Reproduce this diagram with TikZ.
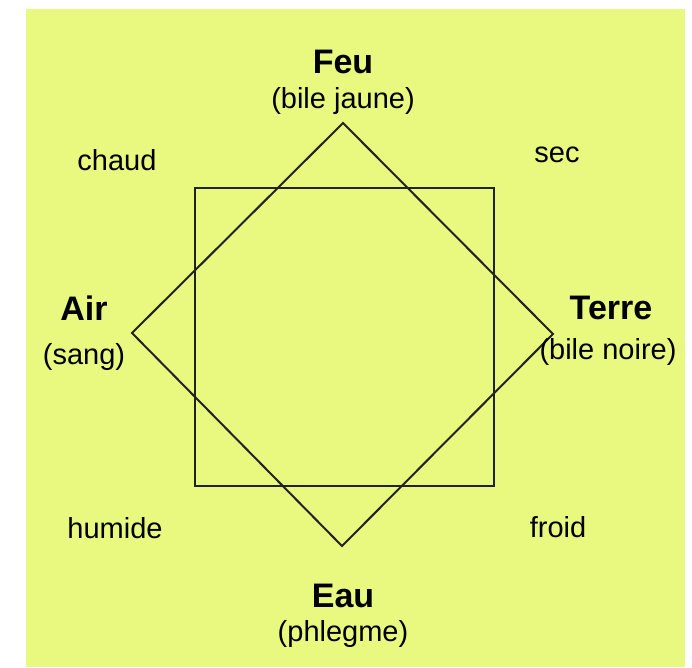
\documentclass[tikz,border=0pt]{standalone}
\usepackage{fontspec}
\setmainfont{Liberation Sans}
\definecolor{bgyellow}{HTML}{E9F87E}
\definecolor{linegray}{HTML}{222222}
\begin{document}
\begin{tikzpicture}[x=1pt,y=-1pt,
  element/.style={font=\fontsize{34}{40}\selectfont\bfseries, inner sep=0pt},
  humour/.style={font=\fontsize{29}{34}\selectfont, inner sep=0pt},
  quality/.style={font=\fontsize{29}{34}\selectfont, inner sep=0pt},
  shapeline/.style={draw=linegray, line width=2pt, line join=miter}]
\useasboundingbox (0,0) rectangle (692,667);
\fill[bgyellow] (26,9) rectangle (685,667);
% square
\coordinate (sqa) at (195,188);
\coordinate (sqb) at (494,486);
\draw[shapeline] (sqa) rectangle (sqb);
% diamond
\coordinate (dt) at (343,123);
\coordinate (dr) at (553,334);
\coordinate (db) at (342,546);
\coordinate (dl) at (132,333);
\draw[shapeline] (dt) -- (dr) -- (db) -- (dl) -- cycle;
% labels
\node[element] (feu) at (343,62) {Feu};
\node[humour] (bj) at (343,101) {(bile jaune)};
\node[element] (air) at (84,308) {Air};
\node[humour] (sang) at (84,357) {(sang)};
\node[element] (terre) at (611,308) {Terre};
\node[humour] (bn) at (608,352) {(bile noire)};
\node[element] (eau) at (343,596) {Eau};
\node[humour] (phl) at (343,634) {(phlegme)};
\node[quality] (chaud) at (117,160) {chaud};
\node[quality] (sec) at (557,155) {sec};
\node[quality] (humide) at (115,528) {humide};
\node[quality] (froid) at (558,527) {froid};
\end{tikzpicture}
\end{document}
